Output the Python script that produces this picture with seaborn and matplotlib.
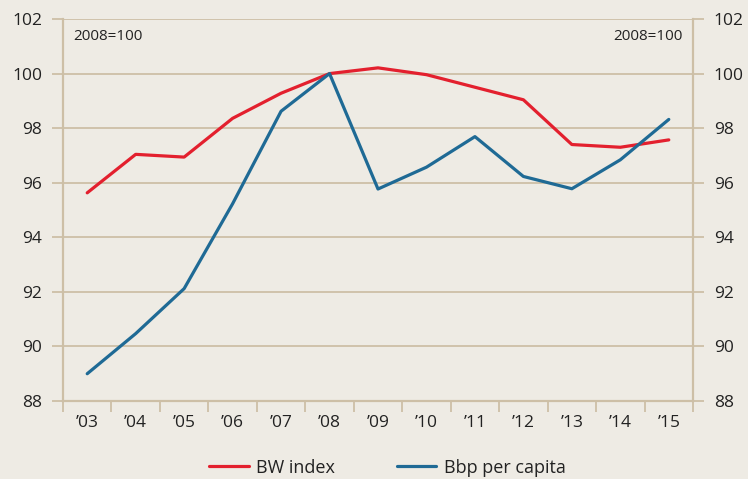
import pandas as pd
import seaborn as sns
import matplotlib.pyplot as plt
from matplotlib.ticker import FixedLocator

years = ["’03", "’04", "’05", "’06", "’07", "’08", "’09", "’10", "’11", "’12", "’13", "’14", "’15"]
bw_index = [95.63, 97.04, 96.94, 98.36, 99.28, 100.0, 100.21, 99.96, 99.5, 99.04, 97.40, 97.30, 97.57]
bbp_per_capita = [89.0, 90.47, 92.12, 95.23, 98.62, 100.0, 95.77, 96.57, 97.69, 96.23, 95.78, 96.84, 98.32]
series_names = ["BW index", "Bbp per capita"]

bg = "#eeebe4"
grid_col = "#cdbfa6"
text_col = "#222222"

df = pd.DataFrame({
    "pos": list(range(len(years))) * 2,
    "value": bw_index + bbp_per_capita,
    "serie": [series_names[0]] * len(years) + [series_names[1]] * len(years),
})

sns.set_style("white")
plt.rcParams["font.family"] = ["Open Sans", "DejaVu Sans"]

fig = plt.figure(figsize=(7.48, 4.79), dpi=100, facecolor=bg)
ax = fig.add_axes([0.0842, 0.1628, 0.8423, 0.7975])
ax.set_facecolor(bg)

sns.lineplot(data=df, x="pos", y="value", hue="serie",
             palette=["#e3202e", "#1f6a95"], linewidth=2.3, ax=ax, legend=False)

ax.set_xlim(-0.5, len(years) - 0.5)
ax.set_ylim(88, 102)
ax.set_yticks(range(88, 103, 2))
ax.set_xticks(range(len(years)))
ax.set_xticklabels(years)
ax.xaxis.set_minor_locator(FixedLocator([i - 0.5 for i in range(len(years) + 1)]))

ax.grid(axis="y", color=grid_col, linewidth=1.3)
ax.set_axisbelow(True)
for side in ["left", "right", "bottom"]:
    ax.spines[side].set_color(grid_col)
    ax.spines[side].set_linewidth(1.6)
ax.spines["top"].set_visible(False)

ax.tick_params(axis="y", which="major", left=True, right=True, labelleft=True, labelright=True,
               length=8, width=1.3, color=grid_col, labelsize=12.5, labelcolor=text_col, pad=7)
ax.tick_params(axis="x", which="major", length=0, labelsize=12.5, labelcolor=text_col, pad=10)
ax.tick_params(axis="x", which="minor", bottom=True, length=8, width=1.3, color=grid_col)

ax.set_xlabel("")
ax.set_ylabel("")

ax.text(0.016, 0.975, "2008=100", transform=ax.transAxes, ha="left", va="top",
        fontsize=11, color=text_col)
ax.text(0.983, 0.975, "2008=100", transform=ax.transAxes, ha="right", va="top",
        fontsize=11, color=text_col)

handles = [plt.Line2D([], [], color="#e3202e", linewidth=2.3),
           plt.Line2D([], [], color="#1f6a95", linewidth=2.3)]
fig.legend(handles, series_names, loc="center", bbox_to_anchor=(0.518, 0.024), ncol=2,
           frameon=False, fontsize=13, handlelength=2.2, handletextpad=0.4,
           columnspacing=3.4, labelcolor=text_col, borderpad=0.2)

plt.savefig("out.png", dpi=100, facecolor=bg)
